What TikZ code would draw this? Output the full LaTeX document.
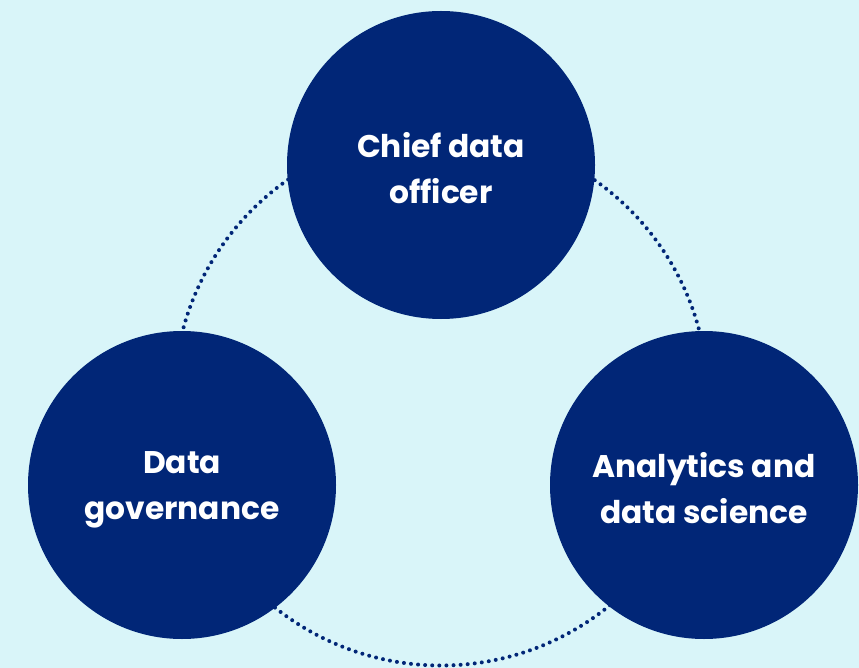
\documentclass[tikz,border=0pt]{standalone}
\usepackage{fontspec}
\setmainfont{Poppins}[BoldFont={Poppins Bold}]
\definecolor{bg}{HTML}{D9F5F9}
\definecolor{navy}{HTML}{012677}
\begin{document}
\begin{tikzpicture}[x=1pt,y=-1pt,
  bubble/.style={circle,fill=navy,minimum size=308pt,inner sep=0pt,text=white,
    font=\fontsize{31.3}{46}\selectfont\bfseries,align=center},
  ring/.style={draw=navy,line width=4pt,line cap=round,dash pattern=on 0pt off 7.1pt}]
\fill[bg] (0,0) rectangle (859,668);
\useasboundingbox (0,0) rectangle (859,668);
\coordinate (c) at (441,398.5);
\draw[ring] (c) circle[radius=267pt];
\node[bubble] (cdo) at (441,165) {\rule{0pt}{0pt}\\[-14pt]Chief data\\officer};
\node[bubble] (dg) at (182,485) {\rule{0pt}{0pt}\\[-14pt]Data\\governance};
\node[bubble] (ads) at (704,485) {\rule{0pt}{0pt}\\[-14pt]Analytics and\\data science};
\end{tikzpicture}
\end{document}
